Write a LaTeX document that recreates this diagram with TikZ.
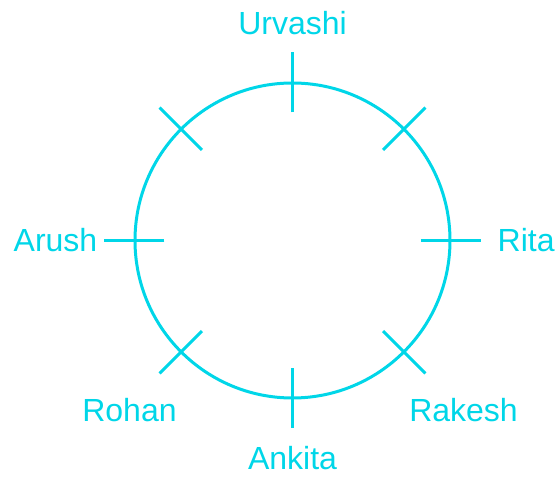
\documentclass[tikz,border=0pt]{standalone}
\usepackage{fontspec}
\setmainfont{Liberation Sans}
\usepackage{xcolor}
\usepackage{tikz}
\usetikzlibrary{positioning}
\definecolor{seatcyan}{RGB}{0,214,232}

\begin{document}
\begin{tikzpicture}[
  x=1pt,y=1pt,
  ring/.style={draw=seatcyan,line width=3pt,circle,inner sep=0pt,minimum size=315pt},
  tick/.style={draw=seatcyan,line width=3pt},
  seatlabel/.style={text=seatcyan,inner sep=0pt,anchor=base,font=\fontsize{32}{38}\selectfont},
]
\useasboundingbox (-292.5,-237.5) rectangle (264.5,240.5);
\node[ring] (table) at (0,0) {};
\foreach \a in {0,45,...,315}
  \draw[tick] (\a:128) -- (\a:188);
\node[seatlabel] (urvashi) at (0,205.5) {Urvashi};
\node[seatlabel,anchor=base east] (arush) at (-195,-11.5) {Arush};
\node[seatlabel,anchor=base west] (rita) at (205,-11.5) {Rita};
\node[seatlabel] (rohan) at (-163,-181.5) {Rohan};
\node[seatlabel] (rakesh) at (171,-181.5) {Rakesh};
\node[seatlabel] (ankita) at (0,-229.5) {Ankita};
\end{tikzpicture}
\end{document}
